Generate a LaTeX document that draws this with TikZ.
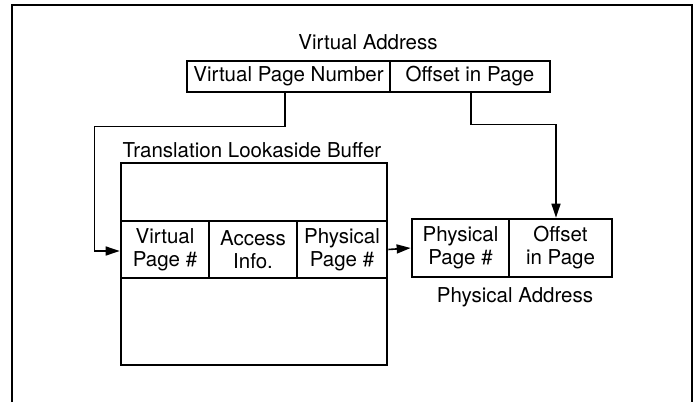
\documentclass[tikz,border=0pt]{standalone}
\usepackage{fontspec}
\setmainfont{TeX Gyre Heros}
\usetikzlibrary{arrows.meta}
\tikzset{
  box/.style={draw, line width=2.7pt, inner sep=0pt, align=center, minimum width=#1},
  lbl/.style={inner sep=0pt, anchor=base},
  conn/.style={line width=1.6pt},
  arr/.style={conn, -{Triangle[length=14pt,width=9pt]}},
  frame/.style={line width=1.3pt}
}
\begin{document}
\begin{tikzpicture}[x=1pt,y=1pt,font=\fontsize{20.5pt}{23pt}\selectfont]
\useasboundingbox (0,0) rectangle (694,-402);
% frame (open at the bottom)
\coordinate (fbl) at (12,-402);
\coordinate (ftl) at (12,-5);
\coordinate (ftr) at (692,-5);
\coordinate (fbr) at (692,-402);
\draw[frame] (fbl) -- (ftl) -- (ftr) -- (fbr);
% virtual address
\node[lbl] (valbl) at (368,-49.5) {Virtual Address};
\node[box=203pt, minimum height=31pt] (vpn) at (288.5,-76.5) {Virtual Page Number};
\node[box=160pt, minimum height=31pt] (off) at (470,-76.5) {Offset in Page};
% TLB
\node[lbl] (tlblbl) at (252,-157) {Translation Lookaside Buffer};
\node[box=266pt, minimum height=202pt] (tlb) at (254,-264) {};
\node[box=88pt, minimum height=57pt] (tvp) at (165,-249.5) {Virtual\\Page \#};
\node[box=88pt, minimum height=57pt] (tai) at (253,-249.5) {Access\\Info.};
\node[box=90pt, minimum height=57pt] (tpp) at (342,-249.5) {Physical\\Page \#};
% physical address
\node[box=97pt, minimum height=58pt] (ppp) at (460.5,-248) {Physical\\Page \#};
\node[box=103pt, minimum height=58pt] (pofs) at (560.5,-248) {Offset\\in Page};
\node[lbl] (palbl) at (515,-302) {Physical Address};
% connectors
\draw[arr] ([xshift=-3.5pt]vpn.south) -- ++(0,-33) -| ([xshift=-25pt,yshift=-1.5pt]tvp.west) -- ([yshift=-1.5pt]tvp.west);
\draw[arr] ([xshift=1pt]off.south) -- ++(0,-31) -| ([xshift=-4.5pt]pofs.north);
\draw[arr] (tpp.east) -- (ppp.west);
\end{tikzpicture}
\end{document}
